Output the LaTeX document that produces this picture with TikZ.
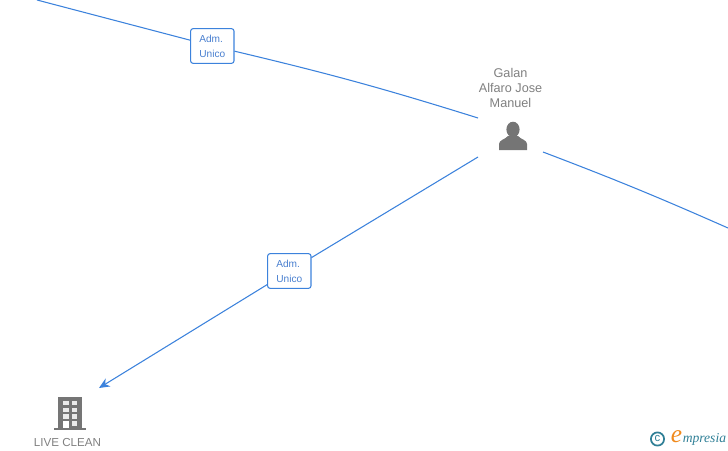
\documentclass[tikz,border=0pt]{standalone}
\usepackage{fontspec}
\setmainfont{Liberation Sans}
\newfontfamily\logofont{Liberation Serif}
\usetikzlibrary{arrows.meta}
\definecolor{linkblue}{HTML}{3C82DC}
\definecolor{labelblue}{HTML}{4A80D0}
\definecolor{icongray}{HTML}{757575}
\definecolor{textgray}{HTML}{808080}
\definecolor{logoteal}{HTML}{2F7F96}
\definecolor{logoorange}{HTML}{F08A1D}
\tikzset{
  link/.style={draw=linkblue,line width=0.8pt},
  rolebox/.style={draw=linkblue,fill=white,rounded corners=1.8pt,line width=0.8pt,
    minimum width=32.5pt,minimum height=26pt,inner sep=0pt,align=left,
    text=labelblue,font=\fontsize{7.6}{11.2}\selectfont},
  pname/.style={text=textgray,align=center,inner sep=0pt,font=\fontsize{9.5}{11.2}\selectfont},
  cname/.style={text=textgray,inner sep=0pt,font=\fontsize{8.7}{10}\selectfont},
}
\begin{document}
\begin{tikzpicture}[x=0.75pt,y=-0.75pt]
\useasboundingbox (0,0) rectangle (728,450);
\coordinate (topfree) at (37,0);
\coordinate (rightfree) at (728,228);
\coordinate (pin) at (478,118);
\coordinate (pout) at (478,157);
\coordinate (pright) at (543,152);
\coordinate (cin) at (99,388);
\node[rolebox] (role1) at (212.3,46) {Adm.\\Unico};
\node[rolebox] (role2) at (289.3,271) {Adm.\\Unico};
\draw[link] (topfree) to (role1);
\draw[link] (role1) to[bend left=2] (pin);
\draw[link] (pright) to[bend left=1.5] (rightfree);
\draw[link] (pout) to (role2);
\draw[link,-{Stealth[length=8pt,width=7pt]}] (role2) to (cin);
\node[pname] (gname) at (510.5,88) {Galan\\Alfaro Jose\\Manuel};
\fill[icongray] (513,129.5) ellipse (6.6 and 7.8);
\fill[icongray] (499,150) -- (499,144) .. controls (499,140) and (505,139.5) .. (508,136)
  -- (518,136) .. controls (521,139.5) and (527,140) .. (527,144) -- (527,150) -- cycle;
\fill[icongray] (58,397) rectangle (82,428);
\fill[icongray] (54,428) rectangle (86,430);
\foreach \yy in {400.5,407.5,414}{
  \fill[white!85!icongray] (63,\yy) rectangle (68.5,\yy+4.5);
  \fill[white!85!icongray] (72,\yy) rectangle (77,\yy+4.5);
}
\fill[white] (63,420.5) rectangle (68.5,428);
\fill[white!85!icongray] (72,420.5) rectangle (77,425.5);
\node[cname] (cname) at (67.5,442) {LIVE CLEAN};
\draw[logoteal,line width=1.3pt] (657.5,439) circle (6.6);
\node[text=logoteal,inner sep=0pt,font=\fontsize{8.5}{9}\selectfont] (copy) at (657.5,438.8) {c};
\node[text=logoorange,inner sep=0pt,font=\logofont\itshape\fontsize{19}{19}\selectfont] (elogo) at (676.5,437) {e};
\node[text=logoteal,inner sep=0pt,anchor=west,font=\logofont\itshape\fontsize{10.2}{10}\selectfont] (mlogo) at (682.5,439) {mpresia};
\end{tikzpicture}
\end{document}
